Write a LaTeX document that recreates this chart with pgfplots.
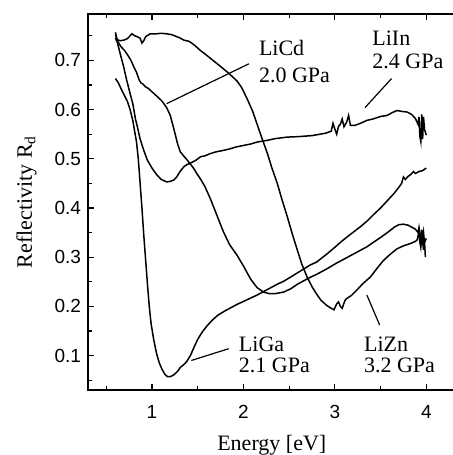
\documentclass[border=0pt]{standalone}
\usepackage{fontspec}
\setmainfont{Liberation Serif}
\newfontfamily\tickfont{Liberation Sans}
\usepackage{pgfplots}
\pgfplotsset{compat=1.18}
\begin{document}
\begin{tikzpicture}
\begin{axis}[
  x=45.715pt, y=246pt,
  xmin=0.3, xmax=4.32, ymin=0.03, ymax=0.795,
  axis line style={line width=0.9pt},
  tick style={black, line width=0.6pt},
  tick align=inside,
  major tick length=3pt, minor tick length=2pt,
  xtick={1,2,3,4}, xticklabels={1,2,3,4},
  minor xtick={0.5,1.5,2.5,3.5},
  ytick={0.1,0.2,0.3,0.4,0.5,0.6,0.7},
  yticklabels={0.1,0.2,0.3,0.4,0.5,0.6,0.7},
  minor ytick={0.05,0.15,0.25,0.35,0.45,0.55,0.65,0.75},
  ytick pos=left,
  xtick pos=both,
  tick label style={font=\tickfont\fontsize{9.5}{11}\selectfont},
  xticklabel style={yshift=-4pt},
  label style={font=\fontsize{11}{13}\selectfont},
  xlabel={Energy [eV]},
  ylabel={Reflectivity R\textsubscript{d}},
  xlabel style={at={(axis description cs:0.5,0)}, anchor=center, yshift=-27.7pt},
  ylabel style={at={(axis description cs:0,0.5)}, anchor=center, yshift=30.7pt},
]
\coordinate (ll) at (rel axis cs:0,0);
% LiZn 3.2 GPa
\addplot[black, line width=0.75pt, mark=none] coordinates {
(0.60,0.757)(0.62,0.742)(0.65,0.740)(0.69,0.741)(0.73,0.744)(0.78,0.754)(0.81,0.750)
(0.84,0.748)(0.87,0.745)(0.89,0.735)(0.91,0.740)(0.93,0.748)(0.98,0.754)(1.05,0.754)
(1.10,0.755)(1.16,0.754)(1.22,0.752)(1.30,0.746)(1.35,0.741)(1.40,0.739)(1.42,0.737)
(1.47,0.730)(1.53,0.720)(1.58,0.713)(1.64,0.704)(1.70,0.695)(1.78,0.683)(1.85,0.672)
(1.93,0.658)(1.98,0.645)(2.04,0.622)(2.10,0.597)(2.15,0.570)(2.20,0.543)(2.26,0.512)
(2.31,0.482)(2.37,0.450)(2.42,0.418)(2.48,0.382)(2.53,0.350)(2.59,0.314)(2.64,0.285)
(2.70,0.258)(2.75,0.240)(2.80,0.225)(2.85,0.212)(2.91,0.202)(2.96,0.196)(2.99,0.193)
(3.02,0.205)(3.04,0.209)(3.06,0.200)(3.08,0.196)(3.11,0.212)(3.13,0.216)(3.18,0.222)
(3.24,0.233)(3.30,0.245)(3.39,0.260)(3.46,0.277)(3.53,0.293)(3.60,0.305)(3.68,0.317)
(3.75,0.323)(3.83,0.328)(3.88,0.332)(3.90,0.335)(3.92,0.352)(3.93,0.330)(3.94,0.320)
(3.95,0.340)(3.96,0.337)(3.97,0.315)(3.98,0.333)(3.99,0.300)
};
% LiCd 2.0 GPa
\addplot[black, line width=0.75pt, mark=none] coordinates {
(0.60,0.752)(0.62,0.740)(0.66,0.728)(0.70,0.720)(0.73,0.712)(0.77,0.700)(0.80,0.687)
(0.83,0.676)(0.86,0.660)(0.88,0.654)(0.90,0.652)(0.93,0.646)(0.96,0.643)(1.00,0.636)
(1.06,0.626)(1.11,0.617)(1.16,0.604)(1.20,0.588)(1.24,0.560)(1.28,0.530)(1.31,0.514)
(1.35,0.505)(1.40,0.494)(1.45,0.482)(1.49,0.470)(1.54,0.456)(1.58,0.443)(1.64,0.418)
(1.71,0.385)(1.78,0.352)(1.85,0.325)(1.93,0.304)(2.00,0.282)(2.08,0.255)(2.15,0.238)
(2.22,0.229)(2.28,0.226)(2.35,0.226)(2.44,0.229)(2.52,0.236)(2.59,0.245)(2.66,0.252)
(2.73,0.259)(2.80,0.265)(2.91,0.276)(3.00,0.286)(3.06,0.292)(3.14,0.300)(3.21,0.307)
(3.28,0.314)(3.35,0.321)(3.42,0.330)(3.50,0.340)(3.56,0.348)(3.61,0.355)(3.65,0.361)
(3.70,0.366)(3.75,0.367)(3.80,0.365)(3.85,0.360)(3.88,0.357)(3.91,0.350)(3.92,0.360)
(3.93,0.345)(3.94,0.328)(3.95,0.356)(3.96,0.335)(3.97,0.350)(3.98,0.330)(4.00,0.338)
};
% LiGa 2.1 GPa
\addplot[black, line width=0.75pt, mark=none] coordinates {
(0.60,0.663)(0.63,0.655)(0.66,0.643)(0.70,0.628)(0.73,0.617)(0.76,0.600)(0.79,0.578)
(0.81,0.556)(0.83,0.535)(0.85,0.500)(0.87,0.450)(0.89,0.400)(0.91,0.345)(0.93,0.295)
(0.95,0.246)(0.97,0.200)(0.99,0.165)(1.02,0.131)(1.05,0.104)(1.08,0.085)(1.11,0.072)
(1.14,0.062)(1.17,0.057)(1.20,0.057)(1.24,0.061)(1.28,0.068)(1.31,0.076)(1.35,0.082)
(1.38,0.088)(1.42,0.100)(1.46,0.117)(1.50,0.133)(1.55,0.148)(1.60,0.160)(1.66,0.172)
(1.72,0.182)(1.80,0.191)(1.86,0.197)(1.93,0.204)(2.00,0.210)(2.08,0.217)(2.15,0.223)
(2.22,0.230)(2.30,0.238)(2.37,0.245)(2.44,0.251)(2.52,0.260)(2.59,0.268)(2.66,0.276)
(2.73,0.284)(2.80,0.290)(2.91,0.306)(3.00,0.320)(3.06,0.330)(3.14,0.342)(3.21,0.352)
(3.28,0.362)(3.35,0.373)(3.42,0.386)(3.50,0.400)(3.57,0.414)(3.64,0.428)(3.70,0.442)
(3.73,0.450)(3.75,0.463)(3.77,0.458)(3.80,0.464)(3.83,0.468)(3.86,0.474)(3.88,0.470)
(3.92,0.474)(3.96,0.476)(4.00,0.481)
};
% LiIn 2.4 GPa
\addplot[black, line width=0.75pt, mark=none] coordinates {
(0.60,0.745)(0.62,0.737)(0.65,0.715)(0.69,0.687)(0.72,0.662)(0.76,0.633)(0.79,0.612)
(0.82,0.580)(0.84,0.565)(0.87,0.540)(0.91,0.517)(0.95,0.497)(1.00,0.481)(1.05,0.468)
(1.10,0.458)(1.16,0.453)(1.20,0.454)(1.24,0.457)(1.27,0.463)(1.31,0.475)(1.35,0.484)
(1.38,0.488)(1.42,0.491)(1.48,0.497)(1.53,0.504)(1.58,0.506)(1.63,0.510)(1.70,0.514)
(1.78,0.517)(1.85,0.520)(1.92,0.524)(2.00,0.527)(2.08,0.530)(2.15,0.534)(2.25,0.537)
(2.35,0.541)(2.48,0.544)(2.60,0.545)(2.75,0.547)(2.90,0.552)(2.96,0.556)(2.98,0.572)
(3.00,0.560)(3.02,0.550)(3.04,0.566)(3.06,0.570)(3.08,0.581)(3.10,0.565)(3.13,0.575)
(3.15,0.588)(3.17,0.568)(3.22,0.568)(3.28,0.572)(3.35,0.578)(3.42,0.581)(3.50,0.586)
(3.57,0.588)(3.63,0.594)(3.68,0.598)(3.74,0.596)(3.79,0.595)(3.84,0.590)(3.88,0.582)
(3.91,0.570)(3.92,0.585)(3.93,0.545)(3.94,0.535)(3.95,0.590)(3.96,0.540)(3.97,0.585)
(3.98,0.560)(4.00,0.548)
};
% pointer lines
\addplot[black, line width=0.6pt, mark=none] coordinates {(2.06,0.693) (1.16,0.612)};
\addplot[black, line width=0.6pt, mark=none] coordinates {(3.62,0.663) (3.33,0.604)};
\addplot[black, line width=0.6pt, mark=none] coordinates {(1.84,0.114) (1.43,0.090)};
\addplot[black, line width=0.6pt, mark=none] coordinates {(3.35,0.223) (3.49,0.162)};
% labels
\begin{scope}[every node/.style={anchor=base west, inner sep=0pt, font=\fontsize{11}{13}\selectfont}]
\node at (axis cs:2.166,0.710) {LiCd};
\node at (axis cs:2.166,0.656) {2.0 GPa};
\node at (axis cs:3.406,0.731) {LiIn};
\node at (axis cs:3.406,0.683) {2.4 GPa};
\node at (axis cs:1.947,0.109) {LiGa};
\node at (axis cs:1.947,0.065) {2.1 GPa};
\node at (axis cs:3.315,0.109) {LiZn};
\node at (axis cs:3.315,0.065) {3.2 GPa};
\end{scope}
\end{axis}
\pgfresetboundingbox
\path[use as bounding box] (ll) ++(-44pt,-32.5pt) rectangle ++(226pt,227.5pt);
\end{tikzpicture}
\end{document}
